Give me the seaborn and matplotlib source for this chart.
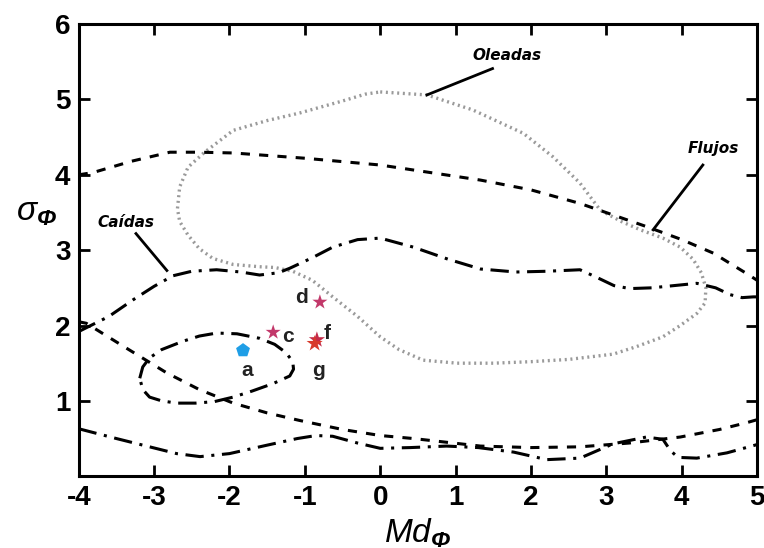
import numpy as np
import pandas as pd
import matplotlib
matplotlib.use("Agg")
import matplotlib.pyplot as plt
import seaborn as sns

# curves (Md_phi, sigma_phi)
oleadas_x = [0.0, 0.62, 1.23, 1.9, 2.29, 2.65, 2.92, 3.2, 3.45, 3.75, 3.98, 4.15, 4.26, 4.32, 4.31, 4.2, 3.98, 3.75,
             3.4, 3.09, 2.5, 2.0, 1.5, 1.02, 0.57, 0.25, 0.0, -0.3, -0.63, -0.9, -1.16, -1.4, -1.6, -1.95, -2.22,
             -2.4, -2.55, -2.66, -2.69, -2.66, -2.55, -2.33, -1.95, -1.5, -1.07, -0.5, -0.2, 0.0]
oleadas_y = [5.1, 5.06, 4.86, 4.55, 4.24, 3.89, 3.53, 3.38, 3.27, 3.16, 3.04, 2.88, 2.7, 2.5, 2.3, 2.16, 2.0, 1.85,
             1.72, 1.62, 1.55, 1.52, 1.5, 1.5, 1.54, 1.68, 1.85, 2.12, 2.38, 2.6, 2.72, 2.77, 2.78, 2.81, 2.89,
             3.02, 3.2, 3.38, 3.55, 3.84, 4.1, 4.3, 4.59, 4.72, 4.82, 4.98, 5.07, 5.1]

flujos_up_x = [-4.0, -3.81, -3.3, -2.79, -2.4, -1.95, -1.0, 0.0, 1.33, 2.0, 2.65, 3.54, 4.0, 4.42, 4.86, 5.0]
flujos_up_y = [4.0, 4.03, 4.18, 4.3, 4.3, 4.29, 4.22, 4.13, 3.93, 3.8, 3.62, 3.31, 3.14, 2.96, 2.69, 2.6]
flujos_lo_x = [-4.0, -3.9, -3.4, -2.83, -2.4, -1.95, -1.5, -1.07, -0.5, 0.0, 0.44, 1.33, 2.0, 2.65, 3.3, 3.98, 4.5, 4.86, 5.0]
flujos_lo_y = [2.05, 2.03, 1.72, 1.37, 1.15, 0.97, 0.84, 0.74, 0.62, 0.54, 0.5, 0.4, 0.38, 0.39, 0.44, 0.52, 0.62, 0.71, 0.75]

caidas_up_x = [-4.0, -3.6, -3.28, -3.0, -2.75, -2.5, -2.17, -1.85, -1.6, -1.35, -1.2, -0.9, -0.63, -0.3, 0.0, 0.44,
               0.9, 1.33, 1.8, 2.21, 2.65, 2.87, 3.1, 3.31, 3.6, 3.8, 4.2, 4.45, 4.64, 4.8, 4.95, 5.0]
caidas_up_y = [1.92, 2.12, 2.34, 2.52, 2.66, 2.72, 2.74, 2.71, 2.67, 2.7, 2.76, 2.9, 3.04, 3.14, 3.16, 3.04,
               2.88, 2.75, 2.71, 2.72, 2.74, 2.64, 2.53, 2.49, 2.5, 2.52, 2.56, 2.5, 2.41, 2.37, 2.38, 2.38]
caidas_lo_x = [-4.0, -3.5, -3.06, -2.7, -2.39, -2.0, -1.51, -1.1, -0.85, -0.63, -0.3, 0.0, 0.4, 0.88, 1.3, 1.77,
               2.21, 2.65, 3.09, 3.53, 3.75, 3.85, 3.95, 4.2, 4.6, 5.0]
caidas_lo_y = [0.63, 0.5, 0.39, 0.3, 0.26, 0.3, 0.41, 0.5, 0.54, 0.53, 0.44, 0.37, 0.38, 0.4, 0.38, 0.32,
               0.22, 0.24, 0.43, 0.52, 0.49, 0.34, 0.25, 0.24, 0.31, 0.42]
caidas_loop_x = [-3.19, -3.15, -3.06, -2.9, -2.62, -2.4, -2.17, -1.9, -1.6, -1.4, -1.25, -1.16, -1.15, -1.2,
                 -1.42, -1.7, -1.95, -2.2, -2.45, -2.7, -2.9, -3.06, -3.15, -3.19]
caidas_loop_y = [1.3, 1.45, 1.57, 1.68, 1.79, 1.86, 1.9, 1.89, 1.83, 1.75, 1.64, 1.52, 1.42, 1.33,
                 1.23, 1.13, 1.05, 0.99, 0.97, 0.97, 1.0, 1.05, 1.15, 1.3]

# samples
sample_names = ["a", "c", "d", "f", "g"]
sample_md = [-1.82, -1.42, -0.8, -0.84, -0.87]
sample_sigma = [1.67, 1.91, 2.31, 1.81, 1.76]

plt.rcParams["mathtext.fontset"] = "custom"
plt.rcParams["mathtext.it"] = "Liberation Sans:italic"
plt.rcParams["mathtext.bf"] = "Liberation Sans:bold:italic"
plt.rcParams["mathtext.rm"] = "Liberation Sans"
plt.rcParams["axes.unicode_minus"] = False
plt.rcParams["lines.solid_joinstyle"] = "round"
plt.rcParams["lines.dash_joinstyle"] = "round"

fig = plt.figure(figsize=(7.64, 5.48), dpi=100)
ax = fig.add_axes([0.103, 0.131, 0.888, 0.825])

black = dict(color="black", linewidth=2.2, sort=False, estimator=None, ax=ax)
sns.lineplot(x=oleadas_x, y=oleadas_y, color="#9a9a9a", linewidth=2.4, linestyle=(0, (0.6, 1.1)),
             sort=False, estimator=None, ax=ax)
sns.lineplot(x=flujos_up_x, y=flujos_up_y, linestyle=(0, (3, 3)), **black)
sns.lineplot(x=flujos_lo_x, y=flujos_lo_y, linestyle=(0, (3, 3)), **black)
for xs, ys in [(caidas_up_x, caidas_up_y), (caidas_lo_x, caidas_lo_y), (caidas_loop_x, caidas_loop_y)]:
    sns.lineplot(x=xs, y=ys, linestyle=(0, (6, 2.5, 1, 2.5)), **black)

df = pd.DataFrame({"name": sample_names, "md": sample_md, "sigma": sample_sigma})
colors = {"a": "#1f9ee6", "c": "#c2386a", "d": "#c2386a", "f": "#c42a4a", "g": "#d83a2a"}
markers = {"a": "p", "c": "*", "d": "*", "f": "*", "g": "*"}
sizes = {"a": 110, "c": 130, "d": 130, "f": 150, "g": 150}
for _, r in df.iterrows():
    sns.scatterplot(x=[r.md], y=[r.sigma], marker=markers[r["name"]], s=sizes[r["name"]],
                    color=colors[r["name"]], edgecolor="none", ax=ax, zorder=5)

lab_off = {"a": (0.05, -0.27), "c": (0.2, -0.06), "d": (-0.25, 0.06), "f": (0.14, 0.08), "g": (0.05, -0.36)}
for n, x, y in zip(sample_names, sample_md, sample_sigma):
    dx, dy = lab_off[n]
    ax.text(x + dx, y + dy, n, fontsize=15, fontweight="bold", family="Liberation Sans",
            ha="center", va="center", color="#222222")

ann = dict(fontsize=11, fontweight="bold", style="italic", family="DejaVu Sans", ha="center", va="center")
ax.text(1.68, 5.59, "Oleadas", **ann)
ax.plot([1.49, 0.62], [5.41, 5.06], color="black", lw=2)
ax.text(4.42, 4.35, "Flujos", **ann)
ax.plot([4.28, 3.62], [4.13, 3.27], color="black", lw=2)
ax.text(-3.37, 3.37, "Caídas", **ann)
ax.plot([-3.24, -2.83], [3.22, 2.73], color="black", lw=2)

ax.set_xlim(-4, 5)
ax.set_ylim(0, 6)
ax.set_xticks(range(-4, 6))
ax.set_yticks(range(0, 7))
ax.set_yticklabels(["", "1", "2", "3", "4", "5", "6"])
ax.tick_params(direction="in", length=8, width=2, top=True, right=True, labelsize=20, pad=6)
for lab in ax.get_xticklabels() + ax.get_yticklabels():
    lab.set_fontweight("bold")
    lab.set_family("Liberation Sans")
for sp in ax.spines.values():
    sp.set_linewidth(2.2)

ax.set_xlabel(r"$Md_{\mathbf{\Phi}}$", fontsize=24, labelpad=4)
ax.set_ylabel(r"$\sigma_{\mathbf{\Phi}}$", fontsize=24, rotation=0)
ax.yaxis.set_label_coords(-0.062, 0.55)

plt.savefig("out.png", dpi=100)
